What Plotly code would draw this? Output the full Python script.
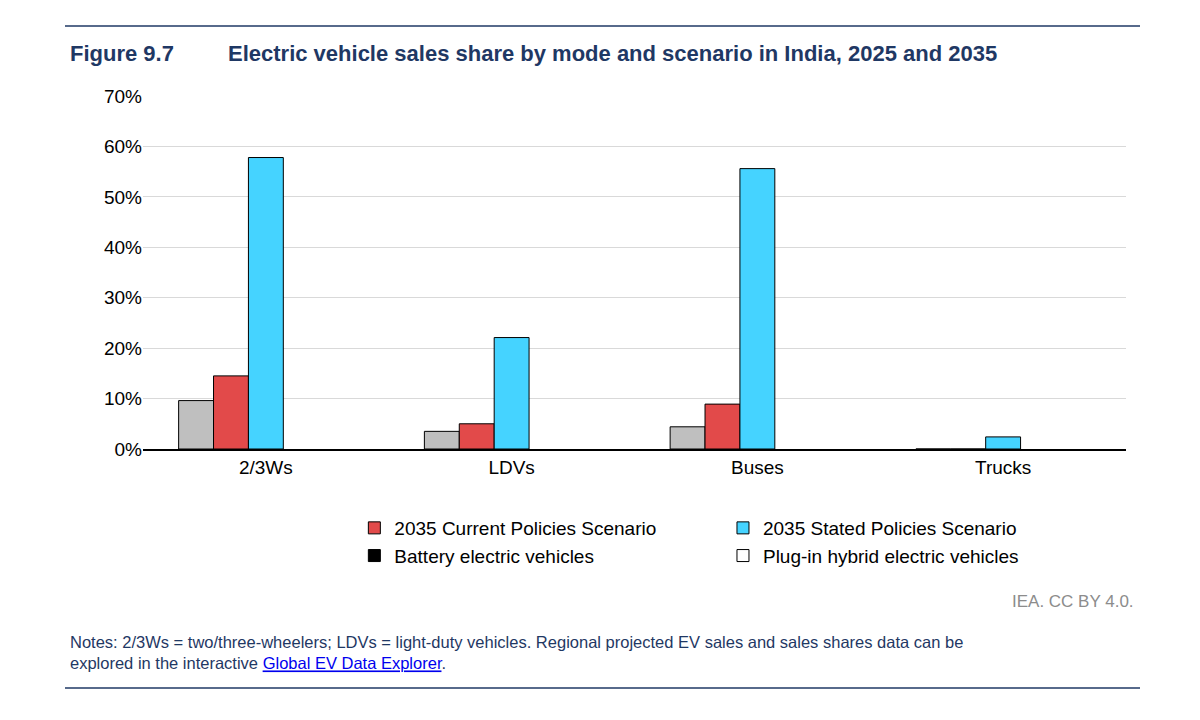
import plotly.graph_objects as go

categories = ["2/3Ws", "LDVs", "Buses", "Trucks"]
share_2025 = [9.6, 3.5, 4.4, 0.0]
share_cps_2035 = [14.5, 5.0, 8.9, 0.0]
share_steps_2035 = [57.8, 22.1, 55.6, 2.4]

navy = "#1F3864"
font = "Liberation Sans, Arial, sans-serif"

fig = go.Figure()
line = dict(color="black", width=1)
fig.add_trace(go.Bar(x=categories, y=share_2025, name="2025", marker=dict(color="#BFBFBF", line=line), legend="legend"))
fig.add_trace(go.Bar(x=categories, y=share_cps_2035, name="2035 Current Policies Scenario", marker=dict(color="#E24A4A", line=line), legend="legend2"))
fig.add_trace(go.Bar(x=categories, y=share_steps_2035, name="2035 Stated Policies Scenario", marker=dict(color="#45D3FF", line=line), legend="legend3"))
# entries only shown in the legend
fig.add_trace(go.Bar(x=[None], y=[None], name="Battery electric vehicles", marker=dict(color="black", line=line), legend="legend2"))
fig.add_trace(go.Bar(x=[None], y=[None], name="Plug-in hybrid electric vehicles", marker=dict(color="white", line=line), legend="legend3"))

leg = dict(bgcolor="rgba(0,0,0,0)", font=dict(size=19, color="black", family=font),
           yanchor="top", xanchor="left", itemwidth=30, tracegroupgap=0, traceorder="normal")
fig.update_layout(
    width=1200, height=720,
    margin=dict(l=135, r=82, t=88, b=279),
    paper_bgcolor="white", plot_bgcolor="white",
    font=dict(family=font, size=19, color="black"),
    barmode="group", bargap=0.29, bargroupgap=0,
    legend=dict(**leg, x=-0.115, y=-0.17),
    legend2=dict(**leg, x=0.215, y=-0.17),
    legend3=dict(**leg, x=0.59, y=-0.17),
    yaxis=dict(range=[0, 70], dtick=10, ticksuffix="%", gridcolor="#D9D9D9",
               zeroline=False, showline=False, ticks="", tickfont=dict(size=19)),
    xaxis=dict(showline=True, linecolor="black", linewidth=1.5, ticks="", tickfont=dict(size=19)),
)

# pixel -> paper coordinates
ph = 720 - 88 - 279
pw = 1200 - 135 - 82
def px(x):
    return (x - 135) / pw
def py(y):
    return (720 - 279 - y) / ph

fig.add_shape(type="line", xref="paper", yref="paper", x0=px(57), x1=px(1132), y0=py(18), y1=py(18),
              line=dict(color=navy, width=1.5))
fig.add_shape(type="line", xref="paper", yref="paper", x0=px(57), x1=px(1132), y0=py(680), y1=py(680),
              line=dict(color=navy, width=1.5))
fig.add_annotation(xref="paper", yref="paper", x=px(60), y=py(46), xanchor="left", yanchor="middle",
                   showarrow=False, text="<b>Figure 9.7</b>", font=dict(size=22, color=navy))
fig.add_annotation(xref="paper", yref="paper", x=px(218), y=py(46), xanchor="left", yanchor="middle",
                   showarrow=False, text="<b>Electric vehicle sales share by mode and scenario in India, 2025 and 2035</b>",
                   font=dict(size=22, color=navy))
fig.add_annotation(xref="paper", yref="paper", x=px(1128), y=py(593), xanchor="right", yanchor="middle",
                   showarrow=False, text="IEA. CC BY 4.0.", font=dict(size=17, color="#8C8C8C"))
fig.add_annotation(xref="paper", yref="paper", x=px(60), y=py(644), xanchor="left", yanchor="middle",
                   showarrow=False, align="left",
                   text="Notes: 2/3Ws = two/three-wheelers; LDVs = light-duty vehicles. Regional projected EV sales and sales shares data can be<br>"
                        "explored in the interactive <span style='color:#0000EE'><u>Global EV Data Explorer</u></span>.",
                   font=dict(size=16.5, color=navy))

fig.write_html("out.html")
